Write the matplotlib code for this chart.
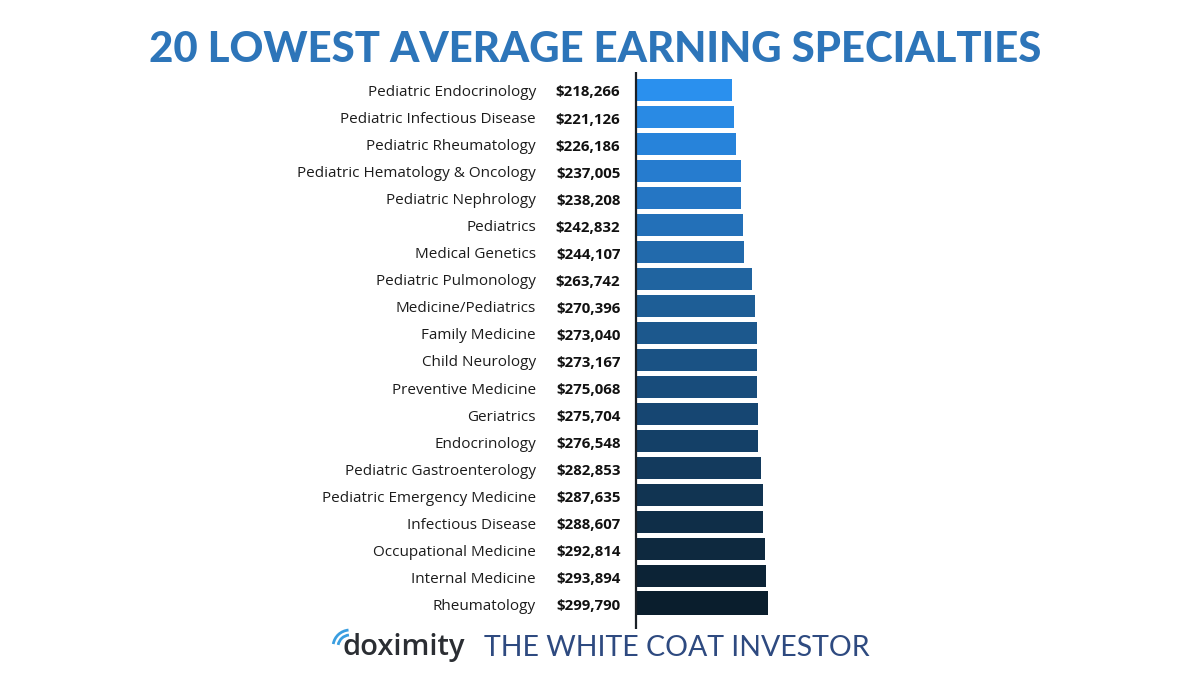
import matplotlib
matplotlib.use("Agg")
import matplotlib.pyplot as plt
from matplotlib.colors import LinearSegmentedColormap
from matplotlib.patches import Arc

W, H = 1200, 675

specialties = [
    "Pediatric Endocrinology", "Pediatric Infectious Disease", "Pediatric Rheumatology",
    "Pediatric Hematology & Oncology", "Pediatric Nephrology", "Pediatrics",
    "Medical Genetics", "Pediatric Pulmonology", "Medicine/Pediatrics", "Family Medicine",
    "Child Neurology", "Preventive Medicine", "Geriatrics", "Endocrinology",
    "Pediatric Gastroenterology", "Pediatric Emergency Medicine", "Infectious Disease",
    "Occupational Medicine", "Internal Medicine", "Rheumatology",
]
earnings = [
    218266, 221126, 226186, 237005, 238208, 242832, 244107, 263742, 270396, 273040,
    273167, 275068, 275704, 276548, 282853, 287635, 288607, 292814, 293894, 299790,
]

plt.rcParams["font.family"] = ["Lato", "DejaVu Sans"]
fig = plt.figure(figsize=(W / 100, H / 100), dpi=100, facecolor="white")

# bars axes, lined up with the baseline at x=636
ax = fig.add_axes([636 / W, 1 - 629 / H, 200 / W, (629 - 72) / H])
ax.set_xlim(0, 200 * 2265)
ax.set_ylim(629, 72)  # y in px so the rows sit where they do in the picture
ax.axis("off")

cmap = LinearSegmentedColormap.from_list(
    "bars", ["#2a90ee", "#2577c6", "#1f6099", "#174a78", "#113350", "#0a1e2d"])
rows = [89.5 + 27.0 * i for i in range(len(earnings))]
rows[-1] = 602.5
for i, (row, val) in enumerate(zip(rows, earnings)):
    ax.barh(row, val, height=24 if i == len(earnings) - 1 else 22,
            color=cmap(i / (len(earnings) - 1)), linewidth=0)

# overlay in pixel coords for text, baseline and logo
ov = fig.add_axes([0, 0, 1, 1], zorder=5)
ov.set_xlim(0, W)
ov.set_ylim(H, 0)
ov.axis("off")
ov.patch.set_alpha(0)
ov.plot([636, 636], [72, 629], color="#1a2026", lw=1.6, solid_capstyle="butt")

for i, (name, val) in enumerate(zip(specialties, earnings)):
    y = 92.5 + 27.05 * i
    ov.text(536, y, name, ha="right", va="center", fontsize=10.95, color="#1c1c1c",
            family=["Open Sans", "DejaVu Sans"])
    ov.text(620.5, y, f"${val:,}", ha="right", va="center", fontsize=10.8, color="#111111",
            fontweight="bold", family=["Open Sans", "DejaVu Sans"])

ov.text(595, 50, "20 LOWEST AVERAGE EARNING SPECIALTIES", ha="center", va="center",
        fontsize=30.2, fontweight="black", color="#2d75b9")

ov.text(342, 647, "doximity", ha="left", va="center", fontsize=21, fontweight="semibold",
        color="#2b2e33", family=["Open Sans", "DejaVu Sans"])
for r, lw in [(12, 2.0), (17, 2.0)]:
    ov.add_patch(Arc((350, 647), r * 2, r * 2, theta1=190, theta2=265,
                     color="#3a9ee0", lw=lw))
ov.text(484, 648, "THE WHITE COAT INVESTOR", ha="left", va="center", fontsize=20.5,
        color="#2e4a80")

fig.savefig("out.png", dpi=100)
